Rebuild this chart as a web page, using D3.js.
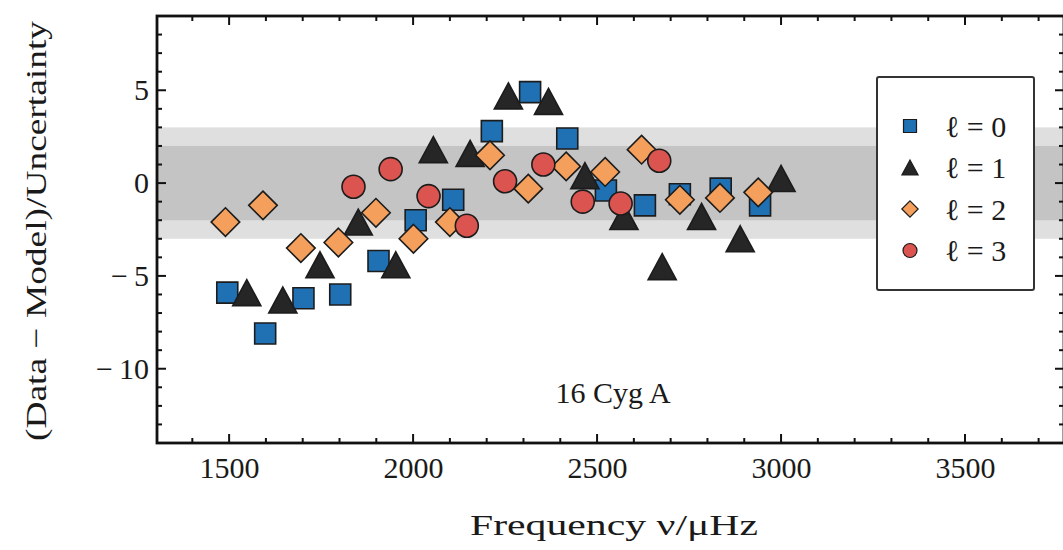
<!DOCTYPE html>
<html>
<head>
<meta charset="utf-8">
<script src="https://cdn.jsdelivr.net/npm/d3@7"></script>
<style>
  html, body { margin: 0; padding: 0; background: #fff; }
  svg { display: block; }
  text { font-family: "Liberation Serif", "DejaVu Serif", serif; fill: #1a1a1a; }
</style>
</head>
<body>
<svg id="chart" width="1063" height="550"></svg>
<script>
// ---- data (frequency in μHz, normalized residual) ----
const l0Freq = [1495, 1598, 1702, 1802, 1906, 2007, 2109, 2214, 2318, 2419, 2524, 2630, 2725, 2836, 2943];
const l0Val  = [-5.9, -8.1, -6.2, -6.0, -4.2, -2.0, -0.9, 2.8, 4.9, 2.4, -0.4, -1.2, -0.6, -0.3, -1.2];

const l1Freq = [1548, 1646, 1747, 1851, 1953, 2055, 2155, 2259, 2368, 2467, 2573, 2677, 2784, 2889, 3000];
const l1Val  = [-5.9, -6.3, -4.4, -2.1, -4.4, 1.8, 1.6, 4.7, 4.4, 0.4, -1.8, -4.5, -1.8, -3.0, 0.25];

const l2Freq = [1490, 1592, 1695, 1797, 1899, 2001, 2100, 2209, 2313, 2416, 2522, 2621, 2725, 2834, 2938];
const l2Val  = [-2.1, -1.2, -3.5, -3.2, -1.6, -3.0, -2.1, 1.5, -0.3, 0.9, 0.6, 1.8, -0.9, -0.8, -0.5];

const l3Freq = [1838, 1939, 2042, 2146, 2250, 2354, 2461, 2564, 2669];
const l3Val  = [-0.2, 0.75, -0.7, -2.3, 0.1, 1.0, -1.0, -1.1, 1.2];

const seriesNames = ["ℓ = 0", "ℓ = 1", "ℓ = 2", "ℓ = 3"];
const xTickValues = [1500, 2000, 2500, 3000, 3500];
const yTickValues = [-10, -5, 0, 5];
const bandInner = [-2, 2];
const bandOuter = [-3, 3];
const starName = "16 Cyg A";

// ---- layout ----
const svg = d3.select("#chart");
const L = 157, T = 16, R = 1064, B = 443;
const x = d3.scaleLinear().domain([1304, 3769]).range([L, R]);
const y = d3.scaleLinear().domain([-14, 9]).range([B, T]);

const colors = ["#2070b4", "#262626", "#f4a05c", "#dc5450"];
const edge = "#1c1c1c";

// marker paths centred on (0,0)
function markerPath(kind, s) {
  const p = d3.path();
  if (kind === 0) { const h = s / 2; p.rect(-h, -h, s, s); }
  else if (kind === 1) { const w = s * 0.54, h = s * 0.5; p.moveTo(0, -h); p.lineTo(w, h); p.lineTo(-w, h); p.closePath(); }
  else if (kind === 2) { const h = s * 0.68; p.moveTo(0, -h); p.lineTo(h, 0); p.lineTo(0, h); p.lineTo(-h, 0); p.closePath(); }
  else { p.arc(0, 0, s / 2, 0, 2 * Math.PI); p.closePath(); }
  return p.toString();
}
const plotSizes = [21, 26, 21, 23];
const legendSizes = [13, 15, 12, 14];

// clip
svg.append("defs").append("clipPath").attr("id", "clip")
  .append("rect").attr("x", L).attr("y", T).attr("width", R - L).attr("height", B - T);

const plot = svg.append("g").attr("clip-path", "url(#clip)");

// bands
plot.append("rect").attr("x", L).attr("width", R - L)
  .attr("y", y(bandOuter[1])).attr("height", y(bandOuter[0]) - y(bandOuter[1]))
  .attr("fill", "#dfdfdf");
plot.append("rect").attr("x", L).attr("width", R - L)
  .attr("y", y(bandInner[1])).attr("height", y(bandInner[0]) - y(bandInner[1]))
  .attr("fill", "#c4c4c4");

// points
const series = [[l0Freq, l0Val], [l1Freq, l1Val], [l2Freq, l2Val], [l3Freq, l3Val]];
series.forEach(([fs, vs], k) => {
  const pts = fs.map((f, i) => ({ f, v: vs[i] }));
  plot.append("g").selectAll("path").data(pts).join("path")
    .attr("transform", d => `translate(${x(d.f)},${y(d.v)})`)
    .attr("d", markerPath(k, plotSizes[k]))
    .attr("fill", colors[k])
    .attr("stroke", edge)
    .attr("stroke-width", 1.6);
});

// star label
svg.append("text").attr("x", x(2500) + 16).attr("y", 403)
  .attr("text-anchor", "middle").attr("font-size", 30).text(starName);

// axes with inward ticks
const xMinor = d3.range(1400, 3800, 100).filter(v => v % 500 !== 0);
const yMinor = d3.range(-13, 9, 1).filter(v => v % 5 !== 0);
function ticks(g, scale, vals, len, orient) {
  vals.forEach(v => {
    const p = scale(v);
    if (orient === "bottom") g.append("line").attr("x1", p).attr("x2", p).attr("y1", B).attr("y2", B - len);
    if (orient === "top") g.append("line").attr("x1", p).attr("x2", p).attr("y1", T).attr("y2", T + len);
    if (orient === "left") g.append("line").attr("y1", p).attr("y2", p).attr("x1", L).attr("x2", L + len);
    if (orient === "right") g.append("line").attr("y1", p).attr("y2", p).attr("x1", R).attr("x2", R - len);
  });
}
const tg = svg.append("g").attr("stroke", "#111").attr("stroke-width", 2);
["bottom", "top"].forEach(o => { ticks(tg, x, xTickValues, 9, o); ticks(tg, x, xMinor, 5, o); });
["left", "right"].forEach(o => { ticks(tg, y, yTickValues, 9, o); ticks(tg, y, yMinor, 5, o); });

svg.append("rect").attr("x", L).attr("y", T).attr("width", R - L).attr("height", B - T)
  .attr("fill", "none").attr("stroke", "#111").attr("stroke-width", 2.8);

// tick labels via d3 axes (no tick lines)
const xAxis = svg.append("g").attr("transform", `translate(0,${B})`)
  .call(d3.axisBottom(x).tickValues(xTickValues).tickSize(0).tickPadding(14).tickFormat(d3.format("d")));
xAxis.select(".domain").remove();
xAxis.selectAll("text").attr("font-size", 30).attr("font-family", "Liberation Serif").attr("fill", "#1a1a1a").attr("dy", "0.71em");

const yAxis = svg.append("g").attr("transform", `translate(${L},0)`)
  .call(d3.axisLeft(y).tickValues(yTickValues).tickSize(0).tickPadding(8)
    .tickFormat(d => d < 0 ? "\u2212\u2009" + Math.abs(d) : String(d)));
yAxis.select(".domain").remove();
yAxis.selectAll("text").attr("font-size", 30).attr("font-family", "Liberation Serif").attr("fill", "#1a1a1a");

// axis titles
svg.append("text").attr("x", 614).attr("y", 535).attr("text-anchor", "middle")
  .attr("font-size", 30).attr("textLength", 288).attr("lengthAdjust", "spacingAndGlyphs")
  .text("Frequency ν/μHz");
svg.append("text").attr("transform", "translate(46,231) rotate(-90)").attr("text-anchor", "middle")
  .attr("font-size", 30).attr("textLength", 420).attr("lengthAdjust", "spacingAndGlyphs")
  .text("(Data \u2212 Model)/Uncertainty");

// legend
const lg = svg.append("g");
lg.append("rect").attr("x", 877).attr("y", 77).attr("width", 157).attr("height", 213)
  .attr("rx", 2).attr("fill", "#fff").attr("stroke", "#333").attr("stroke-width", 2);
seriesNames.forEach((name, k) => {
  const cy = 126 + k * 41.5;
  lg.append("path").attr("transform", `translate(910,${cy})`)
    .attr("d", markerPath(k, legendSizes[k])).attr("fill", colors[k])
    .attr("stroke", edge).attr("stroke-width", 1.2);
  lg.append("text").attr("x", 945).attr("y", cy).attr("dy", "0.35em")
    .attr("font-size", 30).text(name);
});
</script>
</body>
</html>
